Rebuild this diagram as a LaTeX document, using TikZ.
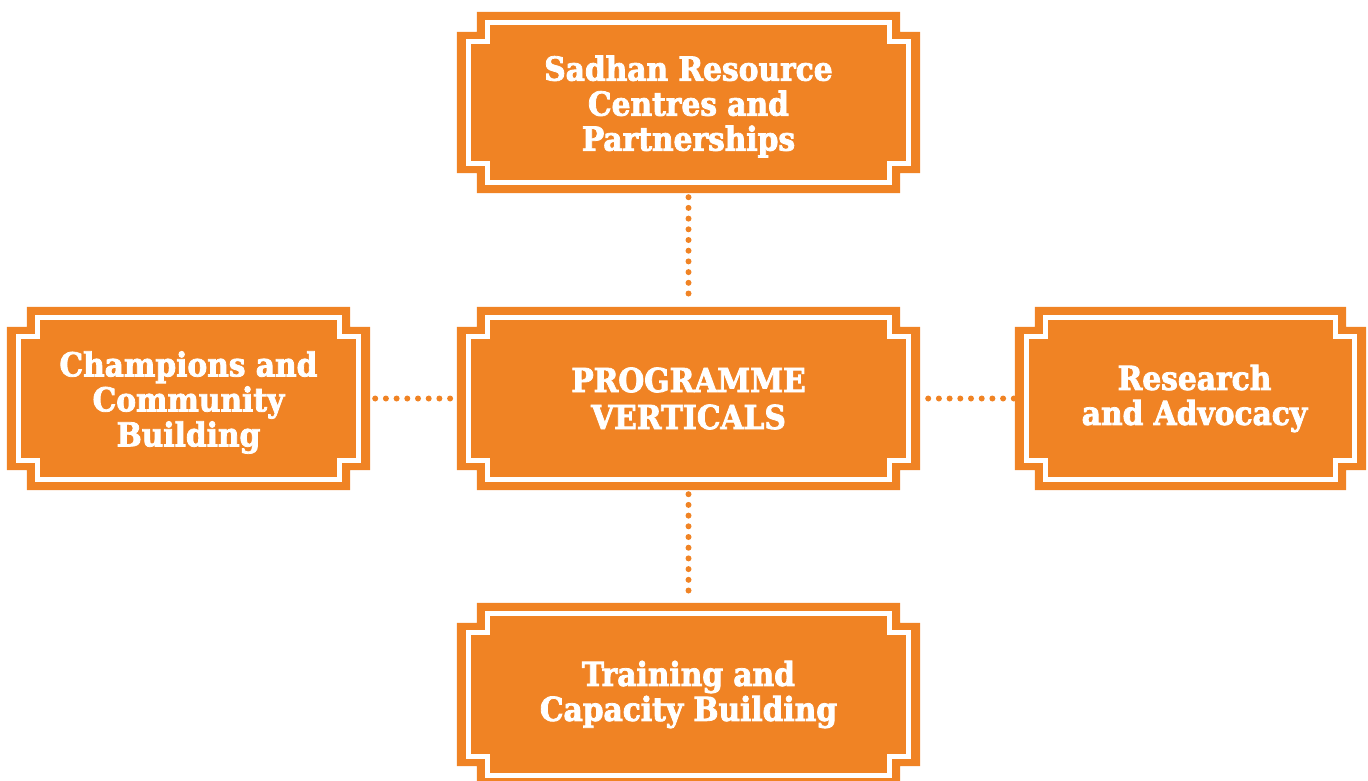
\documentclass[tikz,border=0pt]{standalone}
\usepackage{fontspec}
\usetikzlibrary{calc,backgrounds}
\newfontfamily\boxfont{DejaVu Serif Condensed}[BoldFeatures={FakeBold=2.4}]
\definecolor{sorange}{RGB}{240,131,36}
\newcommand\notchshape[1]{%
  \begin{scope}[on background layer]
  \fill[sorange] ($(#1.north west)+(20,0)$) -- ($(#1.north east)+(-20,0)$) -- ++(0,-20) -- ++(20,0)
     -- ($(#1.south east)+(0,20)$) -- ++(-20,0) -- ++(0,-20) -- ($(#1.south west)+(20,0)$)
     -- ++(0,20) -- ++(-20,0) -- ($(#1.north west)+(0,-20)$) -- ++(20,0) -- cycle;
  \draw[white,line width=5pt] ($(#1.north west)+(31,-11)$) -- ($(#1.north east)+(-31,-11)$) -- ++(0,-19) -- ++(19,0)
     -- ($(#1.south east)+(-12,30)$) -- ++(-19,0) -- ++(0,-19) -- ($(#1.south west)+(31,11)$)
     -- ++(0,19) -- ++(-19,0) -- ($(#1.north west)+(12,-30)$) -- ++(19,0) -- cycle;
  \end{scope}}
\tikzset{
  vbox/.style={minimum height=183pt, inner sep=0pt},
  vtext/.style={inner sep=0pt, text=white, align=center,
    font=\boxfont\bfseries\fontsize{33}{35}\selectfont},
  dotline/.style={sorange, line width=6pt, line cap=round, dash pattern=on 0pt off 10.7pt}
}
\begin{document}
\begin{tikzpicture}[x=1pt,y=1pt]
\useasboundingbox (0,0) rectangle (1368,-780);
\node[vbox, minimum width=463pt, minimum height=181pt] (top) at (688.5,-102.5) {};
\node[vbox, minimum width=463pt] (mid) at (688.5,-398.5) {};
\node[vbox, minimum width=363pt] (left) at (188.5,-398.5) {};
\node[vbox, minimum width=351pt] (right) at (1190.5,-398.5) {};
\node[vbox, minimum width=463pt] (bot) at (688.5,-694.5) {};
\node[vtext] (toptext) at ([yshift=-4pt]top.center) {Sadhan Resource\\Centres and\\Partnerships};
\node[vtext, font=\boxfont\bfseries\fontsize{33}{37}\selectfont] (midtext) at (mid.center) {PROGRAMME\\VERTICALS};
\node[vtext] (lefttext) at ([yshift=-4pt]left.center) {Champions and\\Community\\Building};
\node[vtext] (righttext) at ([xshift=4pt]right.center) {Research\\and Advocacy};
\node[vtext] (bottext) at (bot.center) {Training and\\Capacity Building};
\notchshape{top}
\notchshape{mid}
\notchshape{left}
\notchshape{right}
\notchshape{bot}
\draw[dotline] ([yshift=-4pt]top.south) -- ([yshift=4pt]mid.north);
\draw[dotline] ([yshift=-4pt]mid.south) -- ([yshift=4pt]bot.north);
\draw[dotline] ([xshift=5pt]left.east) -- ([xshift=-5pt]mid.west);
\draw[dotline] ([xshift=8pt]mid.east) -- (right.west);
\end{tikzpicture}
\end{document}
